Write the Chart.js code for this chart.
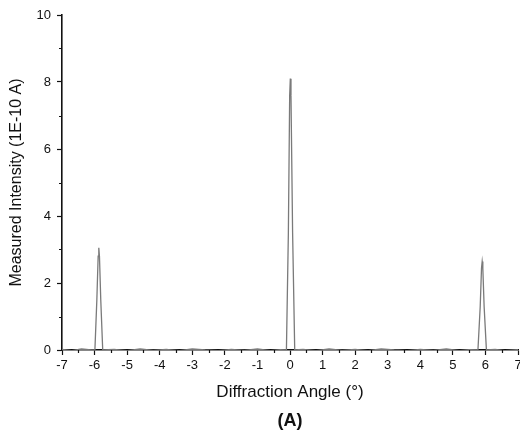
<!DOCTYPE html>
<html>
<head>
<meta charset="utf-8">
<script src="https://cdn.jsdelivr.net/npm/chart.js@4/dist/chart.umd.min.js"></script>
<style>
    html, body { margin: 0; padding: 0; background: #fff; }
    #wrap { width: 520px; height: 434px; }
</style>
</head>
<body>
<div id="wrap"><canvas id="chart_diffraction" width="520" height="434"></canvas></div>
<script>
// diffraction scan
const angle = [-7.0, -6.7, -6.4, -6.1, -5.99, -5.93, -5.89, -5.87, -5.85, -5.81, -5.75, -5.4, -5.0, -4.6, -4.2, -3.8, -3.4, -3.0, -2.6, -2.2, -1.8, -1.4, -1.0, -0.6, -0.3, -0.11, -0.05, -0.01, 0.01, 0.03, 0.08, 0.145, 0.4, 0.8, 1.2, 1.6, 2.0, 2.4, 2.8, 3.2, 3.6, 4.0, 4.4, 4.8, 5.2, 5.5, 5.77, 5.84, 5.88, 5.90, 5.92, 5.96, 6.03, 6.3, 6.6, 7.0];
const intensity = [0.02, -0.02, 0.03, 0.0, 0.0, 1.5, 2.8, 3.05, 2.8, 1.5, 0.0, 0.02, -0.02, 0.03, -0.01, 0.02, -0.02, 0.03, 0.0, -0.02, 0.02, -0.01, 0.03, -0.02, 0.01, 0.0, 3.5, 7.6, 8.1, 7.6, 3.5, 0.0, 0.02, -0.02, 0.03, -0.01, 0.02, -0.02, 0.03, 0.0, -0.02, 0.02, -0.01, 0.03, -0.02, 0.01, 0.0, 1.3, 2.45, 2.64, 2.45, 1.3, 0.0, 0.02, -0.02, 0.01];

const xTicks = [-7, -6, -5, -4, -3, -2, -1, 0, 1, 2, 3, 4, 5, 6, 7];
const yTicks = [0, 2, 4, 6, 8, 10];
const xMinor = [-6.5, -5.5, -4.5, -3.5, -2.5, -1.5, -0.5, 0.5, 1.5, 2.5, 3.5, 4.5, 5.5, 6.5];
const yMinor = [1, 3, 5, 7, 9];

const FONT = "'Liberation Sans', Arial, sans-serif";

const points = angle.map((a, i) => ({ x: a, y: intensity[i] }));

// minor ticks and the panel label
const extras = {
    id: "extras",
    afterDraw(chart) {
        const ctx = chart.ctx;
        const xs = chart.scales.x, ys = chart.scales.y;
        const area = chart.chartArea;
        ctx.save();
        ctx.strokeStyle = "#111";
        ctx.lineWidth = 1.2;
        ctx.beginPath();
        xMinor.forEach(v => {
            const px = Math.round(xs.getPixelForValue(v)) + 0.5;
            ctx.moveTo(px, area.bottom);
            ctx.lineTo(px, area.bottom + 3);
        });
        yMinor.forEach(v => {
            const py = Math.round(ys.getPixelForValue(v)) + 0.5;
            ctx.moveTo(area.left, py);
            ctx.lineTo(area.left - 3, py);
        });
        ctx.stroke();
        ctx.fillStyle = "#111";
        ctx.font = "bold 18px " + FONT;
        ctx.textAlign = "center";
        ctx.textBaseline = "middle";
        ctx.fillText("(A)", (area.left + area.right) / 2, 421);
        ctx.restore();
    }
};

new Chart(document.getElementById("chart_diffraction"), {
    type: "scatter",
    data: {
        datasets: [{
            data: points,
            showLine: true,
            borderColor: "#7a7a7a",
            borderWidth: 1.3,
            pointRadius: 0,
            tension: 0,
        }],
    },
    options: {
        responsive: false,
        animation: false,
        layout: { padding: { left: 0, right: 2, top: 15, bottom: 0 } },
        plugins: { legend: { display: false }, tooltip: { enabled: false } },
        scales: {
            x: {
                type: "linear",
                min: -7,
                max: 7,
                afterBuildTicks: (scale) => { scale.ticks = xTicks.map(v => ({ value: v })); },
                afterFit: (scale) => { scale.height = 84; scale.paddingRight = 0; scale.paddingLeft = 0; },
                border: { display: true, color: "#111", width: 1.6 },
                grid: { drawOnChartArea: false, drawTicks: true, tickLength: 5, tickColor: "#111", tickWidth: 1.2 },
                ticks: { color: "#111", font: { family: FONT, size: 13 }, padding: 3, maxRotation: 0 },
                title: { display: true, text: "Diffraction Angle (°)", color: "#111", font: { family: FONT, size: 17 }, padding: { top: 0, bottom: 31 } },
            },
            y: {
                type: "linear",
                min: 0,
                max: 10,
                afterBuildTicks: (scale) => { scale.ticks = yTicks.map(v => ({ value: v })); },
                afterFit: (scale) => { scale.width = 62; },
                border: { display: true, color: "#111", width: 1.6 },
                grid: { drawOnChartArea: false, drawTicks: true, tickLength: 5, tickColor: "#111", tickWidth: 1.2 },
                ticks: { color: "#111", font: { family: FONT, size: 13 }, padding: 6 },
                title: { display: true, text: "Measured Intensity (1E-10 A)", color: "#111", font: { family: FONT, size: 16 }, padding: { top: 7, bottom: 0 } },
            },
        },
    },
    plugins: [extras],
});
</script>
</body>
</html>
